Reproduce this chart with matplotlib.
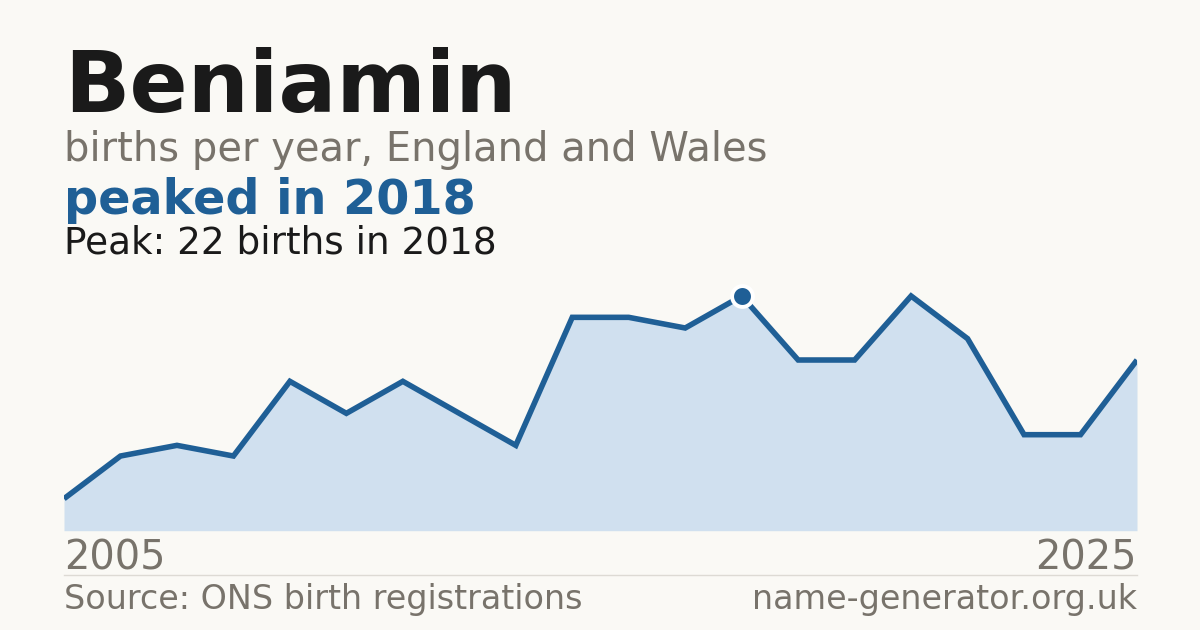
import numpy as np
import matplotlib.pyplot as plt

# births per year
years = [2006, 2007, 2008, 2009, 2010, 2011, 2012, 2013, 2014, 2015,
         2016, 2017, 2018, 2019, 2020, 2021, 2022, 2023, 2024, 2025]
births = [3, 7, 8, 7, 14, 11, 14, 11, 8, 20,
          20, 19, 22, 16, 16, 22, 18, 9, 9, 16]
end_labels = ["2005", "2025"]
peak_year = 2018
peak_value = 22

bg = '#faf9f5'
blue = '#1f5f96'
fill = '#d0e0ef'
grey = '#78736b'
dark = '#1a1a1a'

W, H = 1200, 630
fig = plt.figure(figsize=(12, 6.3), dpi=100, facecolor=bg)

def fy(py):
    return 1 - py / H

# chart area: x 64..1137 px, y 280..530.7 px
ax = fig.add_axes([64 / W, fy(530.7), (1137 - 64) / W, (530.7 - 280) / H])
ax.set_facecolor(bg)
ax.fill_between(years, births, 0, color=fill, lw=0)
ax.plot(years, births, color=blue, lw=4.0, solid_joinstyle='miter', solid_capstyle='butt')
ax.plot([peak_year], [peak_value], marker='o', ms=15, color=blue,
        mec='white', mew=2.8, zorder=5, clip_on=False)
ax.set_xlim(years[0], years[-1])
ax.set_ylim(0, (530.7 - 280) / (234.7 / 22))
ax.axis('off')

# titles
fig.text(64 / W, fy(112), "Beniamin", fontsize=61.8, fontweight='bold', color=dark, va='baseline')
fig.text(64 / W, fy(161), "births per year, England and Wales", fontsize=28.8, color=grey, va='baseline')
fig.text(64 / W, fy(214), "peaked in 2018", fontsize=34.4, fontweight='bold', color=blue, va='baseline')
fig.text(64 / W, fy(254), "Peak: 22 births in 2018", fontsize=26.9, color=dark, va='baseline')

# axis end labels
fig.text(64 / W, fy(569), end_labels[0], fontsize=28.7, color=grey, va='baseline', ha='left')
fig.text(1137 / W, fy(569), end_labels[1], fontsize=28.7, color=grey, va='baseline', ha='right')

# separator and footer
fig.add_artist(plt.Line2D([64 / W, 1137 / W], [fy(574.5), fy(574.5)], color='#dddad4', lw=1))
fig.text(64 / W, fy(609), "Source: ONS birth registrations", fontsize=24, color=grey, va='baseline')
fig.text(1137 / W, fy(609), "name-generator.org.uk", fontsize=24, color=grey, va='baseline', ha='right')

fig.savefig('out.png', dpi=100, facecolor=bg)
